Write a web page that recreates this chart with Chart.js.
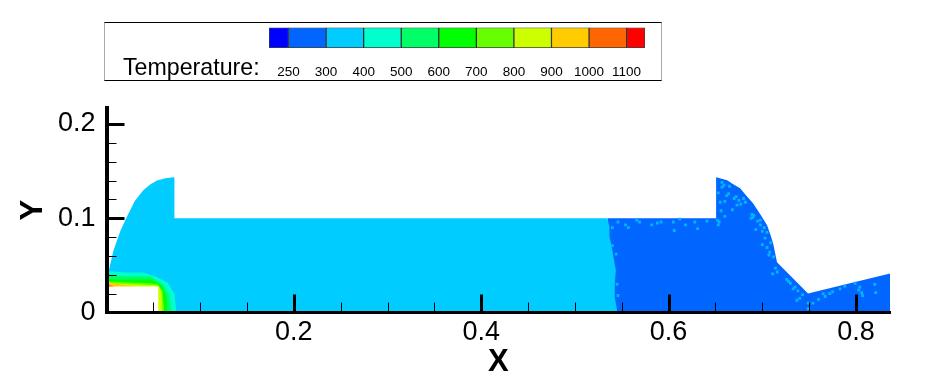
<!DOCTYPE html>
<html>
<head>
<meta charset="utf-8">
<title>Temperature contour</title>
<script src="https://cdn.jsdelivr.net/npm/chart.js@4"></script>
<style>
    html, body { margin: 0; padding: 0; background: #fff; overflow: hidden; }
    #plot { position: absolute; left: 0; top: 0; }
    #legendBox { position: absolute; left: 104px; top: 22px; width: 556px; height: 57px;
        border: 1px solid #000; border-left-color: #aaa; border-right-color: #aaa; }
    #legendTitle { position: absolute; left: 123px; top: 54px; font: 23.2px "Liberation Sans", Arial, sans-serif; color: #000; }
    #colorbar { position: absolute; left: 264px; top: 20px; }
</style>
</head>
<body>
<canvas id="plot" width="933" height="383"></canvas>
<div id="legendBox"></div>
<div id="legendTitle">Temperature:</div>
<canvas id="colorbar" width="386" height="60"></canvas>
<script>
const levelLabels = ['250', '300', '400', '500', '600', '700', '800', '900', '1000', '1100'];
const levelEdges = [-0.52, 0, 1, 2, 3, 4, 5, 6, 7, 8, 9, 9.49];
const levelColors = ['#0000ff', '#0066ff', '#00ccff', '#00ffcc', '#00ff66', '#00ff00', '#66ff00', '#ccff00', '#ffcc00', '#ff6600', '#ff0000'];

const xMajor = [0.2, 0.4, 0.6, 0.8];
const xMinor = [0.05, 0.1, 0.15, 0.25, 0.3, 0.35, 0.45, 0.5, 0.55, 0.65, 0.7, 0.75];
const yMajor = [0, 0.1, 0.2];
const yMinor = [0.02, 0.04, 0.06, 0.08, 0.12, 0.14, 0.16, 0.18];

// outlines, back to front
const coldRegion = [[0.5347, 0.1], [0.6507, 0.1], [0.6507, 0.1436], [0.6624, 0.1404], [0.669, 0.136], [0.6763, 0.1319], [0.683, 0.124],
    [0.6901, 0.116], [0.698, 0.104], [0.7051, 0.0926], [0.7085, 0.083], [0.7115, 0.0734], [0.7157, 0.0532], [0.7488, 0.0202], [0.8363, 0.0415]];
const mainRegion = [[0, 0.04], [0.002, 0.0425], [0.0075, 0.066], [0.015, 0.087], [0.0224, 0.103], [0.0265, 0.111], [0.03, 0.118],
    [0.035, 0.1245], [0.0395, 0.13], [0.047, 0.136], [0.054, 0.14], [0.063, 0.1425], [0.0715, 0.1436], [0.0725, 0.1436], [0.0725, 0.1],
    [0.5347, 0.1], [0.5369, 0.0907], [0.5369, 0.0801], [0.5394, 0.0695], [0.5411, 0.0588], [0.5437, 0.0447], [0.5425, 0.0305],
    [0.5425, 0.0163], [0.5454, 0]];
const band500 = [[0, 0.044], [0.02, 0.0425], [0.0395, 0.0425], [0.0523, 0.0383], [0.0651, 0.0319], [0.0725, 0.02], [0.0747, 0]];
const band600 = [[0, 0.039], [0.0235, 0.0385], [0.0469, 0.0383], [0.0555, 0.033], [0.0608, 0.0287], [0.0672, 0.018], [0.0693, 0]];
const band700 = [[0, 0.035], [0.0469, 0.0351], [0.0533, 0.032], [0.0597, 0.0277], [0.064, 0.016], [0.065, 0]];
const band800 = [[0, 0.033], [0.0469, 0.031], [0.0544, 0.03], [0.0597, 0.0234], [0.0619, 0]];
const band900 = [[0, 0.031], [0.0469, 0.0293], [0.0555, 0.0287], [0.0587, 0.022], [0.0597, 0]];
const band1000 = [[0, 0.033], [0.012, 0.03], [0.03, 0.0278], [0.03, 0]];
const band1100 = [[0, 0.03], [0.008, 0.0278], [0.008, 0]];
const hotBody = [[0, 0.0277], [0.0555, 0.0277], [0.0555, 0]];

const speckles = [[0.546, 0.096], [0.554, 0.093], [0.557, 0.09], [0.566, 0.098], [0.569, 0.096], [0.582, 0.093], [0.588, 0.095],
    [0.592, 0.096], [0.605, 0.096], [0.606, 0.087], [0.612, 0.099], [0.618, 0.093], [0.628, 0.096], [0.631, 0.089], [0.641, 0.097],
    [0.652, 0.098], [0.653, 0.093], [0.54, 0.071], [0.544, 0.062], [0.54, 0.09], [0.545, 0.03], [0.546, 0.018],
    [0.657, 0.133], [0.653, 0.127], [0.662, 0.124], [0.67, 0.121], [0.655, 0.117], [0.66, 0.118], [0.682, 0.117], [0.677, 0.115],
    [0.689, 0.104], [0.69, 0.101], [0.698, 0.098], [0.698, 0.093], [0.702, 0.09], [0.705, 0.085], [0.654, 0.096], [0.668, 0.109],
    [0.709, 0.074], [0.707, 0.061], [0.705, 0.069], [0.712, 0.059], [0.657, 0.138], [0.665, 0.134], [0.673, 0.114],
    [0.659, 0.135], [0.664, 0.126], [0.672, 0.123], [0.675, 0.119], [0.68, 0.121], [0.691, 0.103], [0.688, 0.1],
    [0.695, 0.097], [0.7, 0.086], [0.693, 0.088], [0.703, 0.079], [0.708, 0.064], [0.7, 0.072], [0.656, 0.108], [0.66, 0.102],
    [0.714, 0.047], [0.711, 0.041], [0.726, 0.035], [0.73, 0.031], [0.735, 0.027], [0.738, 0.023], [0.743, 0.019], [0.74, 0.015],
    [0.737, 0.013], [0.749, 0.01], [0.749, 0.004], [0.754, 0.01], [0.767, 0.017], [0.765, 0.02], [0.775, 0.022], [0.772, 0.02],
    [0.788, 0.028], [0.804, 0.027], [0.806, 0.021], [0.82, 0.03], [0.821, 0.021], [0.799, 0.031],
    [0.716, 0.043], [0.728, 0.033], [0.733, 0.025], [0.803, 0.024], [0.807, 0.018], [0.783, 0.025], [0.76, 0.014]];

const fontFamily = '"Liberation Sans", Arial, sans-serif';

function toPoints(list) {
    return list.map(p => ({ x: p[0], y: p[1] }));
}

function layer(label, list, color, order) {
    return {
        label: label,
        data: toPoints(list),
        showLine: true,
        fill: 'origin',
        backgroundColor: color,
        borderWidth: 0,
        pointRadius: 0,
        order: order
    };
}

// inward tick marks, same scales as the data
const innerTicks = {
    id: 'innerTicks',
    afterDatasetsDraw(chart) {
        const ctx = chart.ctx, x = chart.scales.x, y = chart.scales.y;
        const bottom = chart.chartArea.bottom, left = chart.chartArea.left;
        ctx.save();
        ctx.strokeStyle = '#000';
        function mark(x1, y1, x2, y2, w) {
            ctx.lineWidth = w;
            ctx.beginPath();
            ctx.moveTo(x1, y1);
            ctx.lineTo(x2, y2);
            ctx.stroke();
        }
        xMajor.forEach(v => { const p = Math.round(x.getPixelForValue(v)); mark(p + 0.5, bottom, p + 0.5, bottom - 18, 3); });
        xMinor.forEach(v => { const p = Math.round(x.getPixelForValue(v)); mark(p + 0.5, bottom, p + 0.5, bottom - 10, 1); });
        yMajor.filter(v => v > 0).forEach(v => { const p = Math.round(y.getPixelForValue(v)); mark(left, p + 0.5, left + 18, p + 0.5, 3); });
        yMinor.forEach(v => { const p = Math.round(y.getPixelForValue(v)); mark(left, p + 0.5, left + 10, p + 0.5, 1); });
        ctx.restore();
    }
};

new Chart(document.getElementById('plot'), {
    type: 'scatter',
    data: {
        datasets: [
            { label: 'Speckles', data: toPoints(speckles), pointStyle: 'rect', pointRadius: 2, pointBorderWidth: 0,
              pointBackgroundColor: '#00b4ff', showLine: false, order: 0 },
            layer('Body', hotBody, '#ffffff', 1),
            layer('1100', band1100, '#ff6600', 2),
            layer('1000', band1000, '#ffcc00', 3),
            layer('900', band900, '#ccff00', 4),
            layer('800', band800, '#66ff00', 5),
            layer('700', band700, '#00ff00', 6),
            layer('600', band600, '#00ff66', 7),
            layer('500', band500, '#00ffcc', 8),
            layer('400', mainRegion, '#00ccff', 9),
            layer('300', coldRegion, '#0066ff', 10)
        ]
    },
    options: {
        responsive: false,
        animation: false,
        events: [],
        layout: { padding: { left: 0, right: 43, top: 108, bottom: 0 } },
        plugins: { legend: { display: false }, tooltip: { enabled: false } },
        scales: {
            x: {
                type: 'linear',
                min: 0,
                max: 0.8363,
                grid: { display: false, drawTicks: false },
                border: { color: '#000', width: 3, z: 1 },
                afterBuildTicks: s => { s.ticks = xMajor.map(v => ({ value: v })); },
                afterFit: s => { s.height = 70.5; },
                ticks: { color: '#000', font: { family: fontFamily, size: 27 }, padding: 4, maxRotation: 0, autoSkip: false },
                title: { display: true, text: 'X', color: '#000', font: { family: fontFamily, size: 31, weight: 'bold' }, padding: { top: 0, bottom: 2 } }
            },
            y: {
                type: 'linear',
                min: 0,
                max: 0.217,
                grid: { display: false, drawTicks: false },
                border: { color: '#000', width: 4, z: 1 },
                afterBuildTicks: s => { s.ticks = yMajor.map(v => ({ value: v })); },
                afterFit: s => { s.width = 106.5; },
                ticks: { color: '#000', font: { family: fontFamily, size: 27 }, padding: 11, autoSkip: false },
                title: { display: true, text: 'Y', color: '#000', font: { family: fontFamily, size: 31, weight: 'bold' }, padding: { top: 15, bottom: 0 } }
            }
        }
    },
    plugins: [innerTicks]
});

new Chart(document.getElementById('colorbar'), {
    type: 'bar',
    data: {
        labels: ['Temperature'],
        datasets: levelColors.map((color, i) => ({
            data: [[levelEdges[i], levelEdges[i + 1]]],
            backgroundColor: color,
            borderColor: 'rgba(0,0,0,0.75)',
            borderWidth: 1,
            borderSkipped: false,
            grouped: false,
            barPercentage: 1,
            categoryPercentage: 1
        }))
    },
    options: {
        indexAxis: 'y',
        responsive: false,
        animation: false,
        events: [],
        layout: { padding: { left: 5, right: 5, top: 7.5, bottom: 0 } },
        plugins: { legend: { display: false }, tooltip: { enabled: false } },
        scales: {
            y: { display: false },
            x: {
                type: 'linear',
                min: levelEdges[0],
                max: levelEdges[levelEdges.length - 1],
                grid: { display: false, drawTicks: false },
                border: { display: false },
                afterBuildTicks: s => { s.ticks = levelLabels.map((t, i) => ({ value: i })); },
                afterFit: s => { s.height = 32; s.paddingLeft = 0; s.paddingRight = 0; },
                ticks: {
                    color: '#000',
                    font: { family: fontFamily, size: 13.5 },
                    padding: 16,
                    maxRotation: 0,
                    autoSkip: false,
                    callback: v => levelLabels[v]
                }
            }
        }
    }
});
</script>
</body>
</html>
